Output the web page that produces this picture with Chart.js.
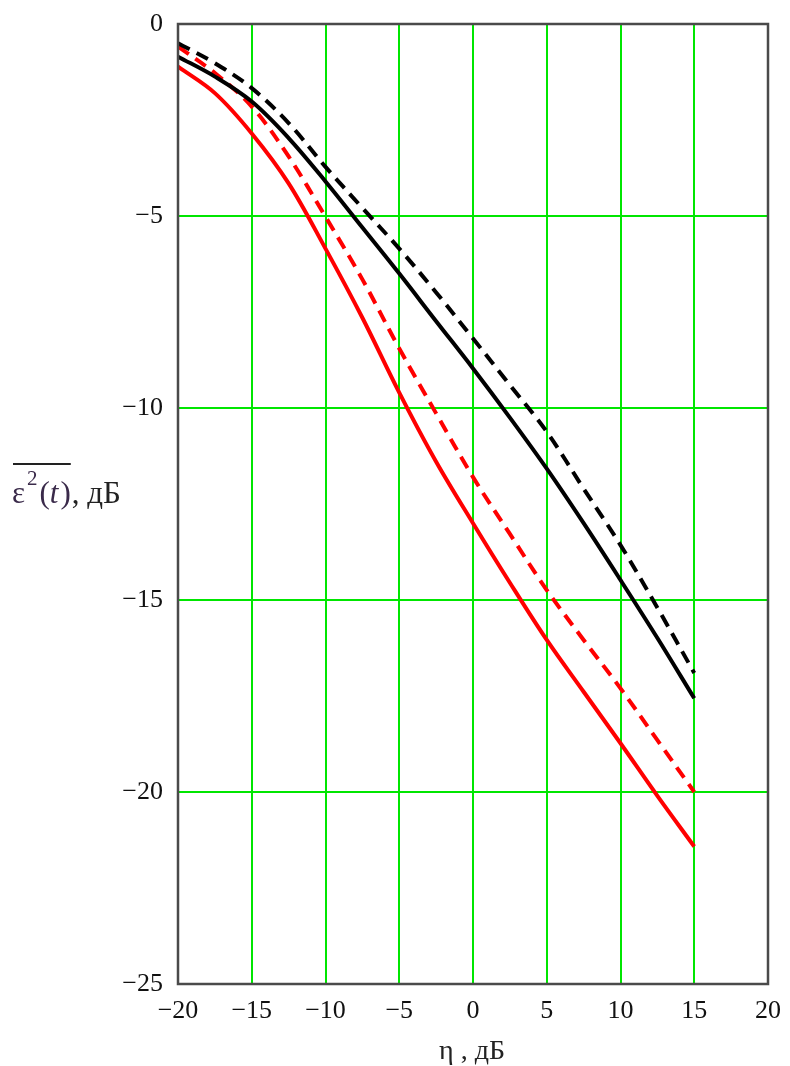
<!DOCTYPE html>
<html>
<head>
<meta charset="utf-8">
<script src="https://cdn.jsdelivr.net/npm/chart.js@4"></script>
<style>
  body { margin: 0; background: #fff; }
  canvas { display: block; }
</style>
</head>
<body>
<canvas id="chart" width="790" height="1066"></canvas>
<script>
const eta = [-20, -17.5, -15, -12.5, -10, -7.5, -5, -2.5, 0, 2.5, 5, 7.5, 10, 12.5, 15];
const blackSolid = [-0.85, -1.37, -2.02, -2.97, -4.1, -5.3, -6.5, -7.74, -8.97, -10.25, -11.58, -13.0, -14.48, -15.99, -17.56];
const blackDashed = [-0.5, -1.02, -1.67, -2.58, -3.72, -4.79, -5.85, -6.99, -8.19, -9.4, -10.62, -12.1, -13.57, -15.2, -16.9];
const redSolid = [-1.11, -1.8, -2.85, -4.15, -5.85, -7.65, -9.6, -11.4, -13.0, -14.55, -16.04, -17.39, -18.73, -20.1, -21.42];
const redDashed = [-0.59, -1.28, -2.15, -3.45, -5.02, -6.65, -8.45, -10.14, -11.8, -13.28, -14.74, -16.04, -17.3, -18.65, -20.0];

const xTicks = [-20, -15, -10, -5, 0, 5, 10, 15, 20];
const yTicks = [-25, -20, -15, -10, -5, 0];

const FONT = '"Liberation Serif", "Times New Roman", serif';

function toPoints(ys) {
    return eta.map((x, i) => ({ x: x, y: ys[i] }));
}

function minus(v) {
    return String(v).replace('-', '\u2212');
}

const framePlugin = {
    id: 'frame',
    afterDraw(chart) {
        const ctx = chart.ctx;
        const a = chart.chartArea;
        ctx.save();
        ctx.strokeStyle = '#4a4a4a';
        ctx.lineWidth = 2.5;
        ctx.strokeRect(a.left, a.top, a.right - a.left, a.bottom - a.top);

        // x axis title
        ctx.fillStyle = '#222';
        ctx.font = '28px ' + FONT;
        ctx.textAlign = 'center';
        ctx.textBaseline = 'alphabetic';
        ctx.fillText('\u03b7 , \u0434\u0411', 472, 1059);

        // y axis title with overline and superscript
        ctx.textAlign = 'left';
        ctx.fillStyle = '#3a2a4a';
        ctx.font = '31px ' + FONT;
        let x = 12;
        const base = 503;
        ctx.fillText('\u03b5', x, base);
        x += ctx.measureText('\u03b5').width + 2;
        ctx.font = '21px ' + FONT;
        ctx.fillText('2', x, base - 18);
        x += ctx.measureText('2').width + 2;
        ctx.font = '31px ' + FONT;
        ctx.fillText('(', x, base);
        x += ctx.measureText('(').width;
        ctx.font = 'italic 31px ' + FONT;
        ctx.fillText('t', x, base);
        x += ctx.measureText('t').width + 2;
        ctx.font = '31px ' + FONT;
        ctx.fillText(')', x, base);
        x += ctx.measureText(')').width;
        ctx.strokeStyle = '#222';
        ctx.lineWidth = 2;
        ctx.beginPath();
        ctx.moveTo(13, 464);
        ctx.lineTo(x, 464);
        ctx.stroke();
        ctx.fillStyle = '#222';
        ctx.fillText(', \u0434\u0411', x + 1, base);
        ctx.restore();
    }
};

const ctx = document.getElementById('chart');

new Chart(ctx, {
    type: 'line',
    data: {
        datasets: [
            { data: toPoints(blackDashed), borderColor: '#000', borderWidth: 4, borderDash: [13, 8] },
            { data: toPoints(blackSolid), borderColor: '#000', borderWidth: 4 },
            { data: toPoints(redDashed), borderColor: '#ff0000', borderWidth: 4, borderDash: [13, 8] },
            { data: toPoints(redSolid), borderColor: '#ff0000', borderWidth: 4 }
        ]
    },
    options: {
        responsive: false,
        animation: false,
        events: [],
        elements: {
            point: { radius: 0 },
            line: { tension: 0.35, fill: false }
        },
        layout: { padding: { top: 24, right: 22, left: 0, bottom: 0 } },
        plugins: {
            legend: { display: false },
            tooltip: { enabled: false }
        },
        scales: {
            x: {
                type: 'linear',
                min: -20,
                max: 20,
                afterBuildTicks(scale) {
                    scale.ticks = xTicks.map(v => ({ value: v }));
                },
                afterFit(scale) {
                    scale.height = 82;
                    scale.paddingLeft = 0;
                    scale.paddingRight = 0;
                },
                grid: { color: '#00e600', lineWidth: 2, drawTicks: false },
                border: { display: false },
                ticks: {
                    color: '#111',
                    padding: 12,
                    maxRotation: 0,
                    autoSkip: false,
                    font: { family: FONT, size: 26 },
                    callback: v => minus(v)
                }
            },
            y: {
                type: 'linear',
                min: -25,
                max: 0,
                afterBuildTicks(scale) {
                    scale.ticks = yTicks.map(v => ({ value: v }));
                },
                afterFit(scale) {
                    scale.width = 178;
                    scale.paddingTop = 0;
                    scale.paddingBottom = 0;
                },
                grid: { color: '#00e600', lineWidth: 2, drawTicks: false },
                border: { display: false },
                ticks: {
                    color: '#111',
                    padding: 15,
                    font: { family: FONT, size: 26 },
                    callback: v => minus(v)
                }
            }
        }
    },
    plugins: [framePlugin]
});
</script>
</body>
</html>
